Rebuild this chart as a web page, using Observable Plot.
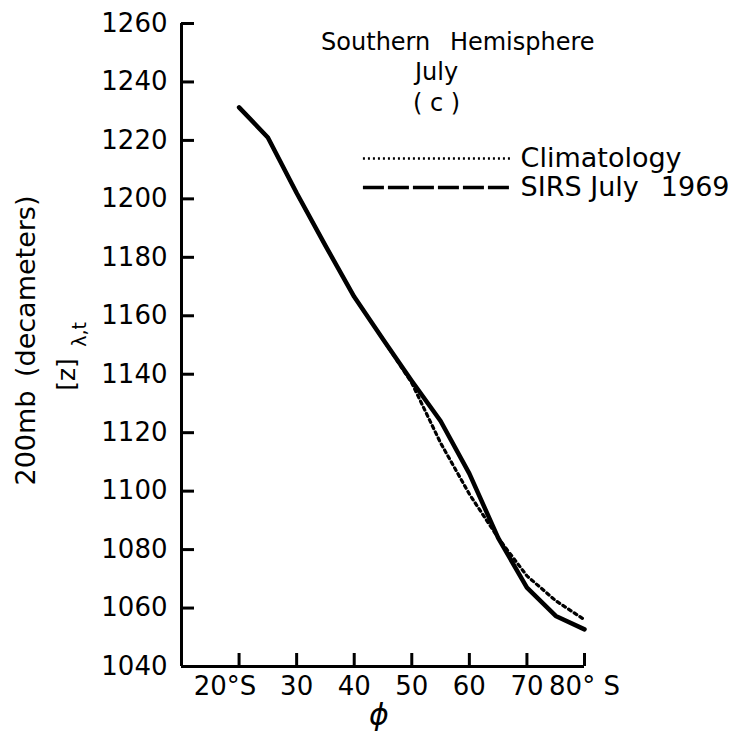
<!DOCTYPE html>
<html><head><meta charset="utf-8">
<script src="https://cdn.jsdelivr.net/npm/d3@7"></script>
<script src="https://cdn.jsdelivr.net/npm/@observablehq/plot@0.6"></script>
<style>html,body{margin:0;padding:0;background:#fff;} svg{display:block;}</style>
</head><body><div id="chart"></div>
<script>
// ---- data ----
const latitudes    = [20, 25, 30, 35, 40, 45, 50, 55, 60, 65, 70, 75, 80];
const sirsJuly1969 = [1231.3, 1221, 1202, 1184, 1166.5, 1152, 1137.7, 1124, 1106, 1084, 1067, 1057.3, 1052.7];
const climatology  = [1231.3, 1221, 1202, 1184, 1166.5, 1152, 1137, 1116.5, 1099, 1084, 1071, 1062.5, 1056];
const yTicks = [1040, 1060, 1080, 1100, 1120, 1140, 1160, 1180, 1200, 1220, 1240, 1260];
const xTicks = [20, 30, 40, 50, 60, 70, 80];
const xTickLabels = ["20°S", "30", "40", "50", "60", "70", "80° S"];
const xDomain = [10, 80];
const yDomain = [1040, 1260];
const titleLines = ["Southern\u2002 Hemisphere", "July", "( c )"];
const legendLabels = ["Climatology", "SIRS July\u2002 1969"];
const yLabel = "200mb\u2002(decameters)";
const yLabel2 = "[z]";
const yLabel2Sub = "λ,t";
const xLabel = "ϕ";

// annotation anchors in data coordinates
const titleX = [58.0, 54.3, 54.3];
const titleY = [1250.8, 1240.5, 1230.2];
const legendX = [41.6, 67.6];
const legendY = [1213.8, 1203.9];
const legendTextX = 68.9;

const rows = latitudes.map((lat, i) => ({lat, sirs: sirsJuly1969[i], clim: climatology[i]}));
const fmt = d => xTickLabels[xTicks.indexOf(d)];

const W = 743, H = 737, mL = 181, mR = 159, mT = 23, mB = 71;
const frameW = W - mL - mR, frameH = H - mT - mB;
const midY = mT + frameH / 2;
const tick = 13;

const chart = Plot.plot({
  width: W, height: H,
  marginLeft: mL, marginRight: mR, marginTop: mT, marginBottom: mB,
  x: {domain: xDomain},
  y: {domain: yDomain},
  style: {fontFamily: "'DejaVu Sans', sans-serif", color: "#000", background: "#fff", overflow: "visible"},
  marks: [
    // axes lines & inward ticks
    Plot.ruleX([xDomain[0]], {stroke: "#000", strokeWidth: 3}),
    Plot.ruleY([yDomain[0]], {stroke: "#000", strokeWidth: 3}),
    Plot.ruleY(yTicks.slice(1), {y: d => d, insetRight: frameW - tick, stroke: "#000", strokeWidth: 3}),
    Plot.ruleX(xTicks, {x: d => d, insetTop: frameH - tick, stroke: "#000", strokeWidth: 3}),
    Plot.axisY(yTicks, {tickSize: 0, tickPadding: 14, fontSize: 26, label: null, tickFormat: d => String(d)}),
    Plot.axisX(xTicks.slice(1), {tickSize: 0, tickPadding: 10, fontSize: 26, label: null, tickFormat: fmt}),
    Plot.axisX(xTicks.slice(0, 1), {tickSize: 0, tickPadding: 10, fontSize: 26, label: null, tickFormat: fmt, dx: -14}),
    // series
    Plot.line(rows, {x: "lat", y: "clim", stroke: "#000", strokeWidth: 3.2, strokeDasharray: "3,3.8"}),
    Plot.line(rows, {x: "lat", y: "sirs", stroke: "#000", strokeWidth: 4.5, strokeLinecap: "round", strokeLinejoin: "round"}),
    // title
    Plot.text(titleLines, {text: d => d, x: (d, i) => titleX[i], y: (d, i) => titleY[i], lineAnchor: "bottom", textAnchor: "middle", fontSize: 24}),
    // legend
    Plot.ruleY([legendY[0]], {y: d => d, x1: legendX[0], x2: legendX[1], stroke: "#000", strokeWidth: 2.4, strokeDasharray: "2,3"}),
    Plot.ruleY([legendY[1]], {y: d => d, x1: legendX[0], x2: legendX[1], stroke: "#000", strokeWidth: 3.5, strokeDasharray: "21,4"}),
    Plot.text(legendLabels, {text: d => d, x: legendTextX, y: (d, i) => legendY[i], textAnchor: "start", lineAnchor: "middle", fontSize: 27}),
    // axis labels
    Plot.text([xLabel], {text: d => d, frameAnchor: "bottom", textAnchor: "middle", dx: -4, dy: 58, lineAnchor: "bottom", fontSize: 30, fontStyle: "italic"}),
    Plot.text([yLabel], {text: d => d, frameAnchor: "left", textAnchor: "middle", rotate: -90, dx: 26 - mL, dy: 340 - midY, lineAnchor: "middle", fontSize: 27}),
    Plot.text([yLabel2], {text: d => d, frameAnchor: "left", textAnchor: "middle", rotate: -90, dx: 66 - mL, dy: 374 - midY, lineAnchor: "middle", fontSize: 25}),
    Plot.text([yLabel2Sub], {text: d => d, frameAnchor: "left", textAnchor: "middle", rotate: -90, dx: 79 - mL, dy: 334 - midY, lineAnchor: "middle", fontSize: 19})
  ]
});
document.getElementById("chart").appendChild(chart);
</script>
</body></html>
